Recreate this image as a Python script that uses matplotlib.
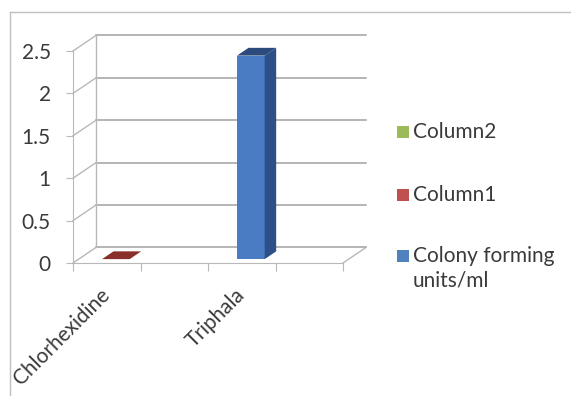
"""3-D style clustered column chart: colony forming units per treatment."""

import matplotlib
matplotlib.use("Agg")
import matplotlib.pyplot as plt
import numpy as np
from matplotlib.lines import Line2D
from matplotlib.patches import Polygon, Rectangle

# data
categories = ["Chlorhexidine", "", "Triphala", ""]
series_names = ["Colony forming\nunits/ml", "Column1", "Column2"]
cfu = [np.nan, np.nan, 2.4, np.nan]
col1 = [0.0, np.nan, np.nan, np.nan]
col2 = [np.nan, np.nan, np.nan, np.nan]
yticks = [0, 0.5, 1, 1.5, 2, 2.5]
ytick_labels = ["0", "0.5", "1", "1.5", "2", "2.5"]

# styling
plt.rcParams["font.family"] = ["Lato", "DejaVu Sans"]
FS = 15
TXT = "#3a3a3a"
GRID = "#a0a0a0"
SIDE = "#b8b8b8"
face = {  # front, side, top, legend
    "Colony forming\nunits/ml": ("#4a7cc4", "#2d5089", "#2c4a7c", "#4f81bd"),
    "Column1": ("#c0504d", "#8c3330", "#8a2e2b", "#c0504d"),
    "Column2": ("#9bbb59", "#6f8a3c", "#718c3e", "#9bbb59"),
}
DX, DY = 0.34, 0.183          # depth offset in data units
D0, D1 = 0.25, 0.75           # bar depth span (fraction of floor depth)
BAR_OFF, BAR_W = 0.345, 0.41  # bar position inside a category slot

W, H = 571, 396
fig = plt.figure(figsize=(W / 100, H / 100), dpi=100)
ax = fig.add_axes([73 / W, 1 - 263 / H, 270 / W, 212 / H])
ax.set_xlim(0, len(categories))
ax.set_ylim(0, 2.5)

# chart area border (only left and top are inside the picture)
fig.add_artist(Line2D([10 / W, 10 / W], [0, 1 - 12 / H], color="#c0c0c0", lw=1))
fig.add_artist(Line2D([10 / W, 1], [1 - 12 / H, 1 - 12 / H], color="#c0c0c0", lw=1))

# back wall gridlines + side wall diagonals
n = len(categories)
for v in yticks:
    ax.plot([DX, n + DX], [v + DY, v + DY], color=GRID, lw=1.1, clip_on=False, zorder=1)
    ax.plot([0, DX], [v, v + DY], color=SIDE, lw=1, clip_on=False, zorder=1)
ax.plot([DX, DX], [DY, 2.5 + DY], color=SIDE, lw=1, clip_on=False, zorder=1)
ax.plot([n, n + DX], [0, DY], color=SIDE, lw=1, clip_on=False, zorder=1)


def proj(x, v, d):
    return (x + d * DX, v + d * DY)


def bar3d(ax, x0, h, cols):
    x1 = x0 + BAR_W
    front, side, top = cols[:3]
    if h > 0:
        ax.add_patch(Polygon([proj(x0, 0, D0), proj(x1, 0, D0), proj(x1, h, D0), proj(x0, h, D0)],
                             closed=True, fc=front, ec="none", zorder=3, clip_on=False))
        ax.add_patch(Polygon([proj(x1, 0, D0), proj(x1, 0, D1), proj(x1, h, D1), proj(x1, h, D0)],
                             closed=True, fc=side, ec="none", zorder=3, clip_on=False))
    ax.add_patch(Polygon([proj(x0, h, D0), proj(x1, h, D0), proj(x1, h, D1), proj(x0, h, D1)],
                         closed=True, fc=top, ec="none", zorder=4, clip_on=False))


for name, vals in zip(series_names, [cfu, col1, col2]):
    for i, v in enumerate(vals):
        if np.isnan(v):
            continue
        bar3d(ax, i + BAR_OFF, v, face[name])

# axes
for s in ["top", "right"]:
    ax.spines[s].set_visible(False)
ax.spines["left"].set_color(SIDE)
ax.spines["bottom"].set_color(SIDE)
ax.set_yticks(yticks, ytick_labels)
ax.tick_params(axis="y", colors=SIDE, labelcolor=TXT, labelsize=FS, length=5, pad=11)
ax.set_xticks(range(n + 1), [""] * (n + 1))
ax.tick_params(axis="x", which="major", colors=SIDE, length=6)
ax.set_xticks(np.arange(n) + 0.5, categories, minor=True)
ax.tick_params(axis="x", which="minor", length=0, pad=21, labelsize=FS, labelcolor=TXT)
for lab in ax.get_xticklabels(minor=True):
    lab.set_rotation(45)
    lab.set_ha("right")
    lab.set_va("center")
    lab.set_rotation_mode("anchor")

# legend (Excel style, reversed order)
leg_y = {"Column2": 132, "Column1": 195, "Colony forming\nunits/ml": 256}
for name in ["Column2", "Column1", "Colony forming\nunits/ml"]:
    y = leg_y[name]
    fig.patches.append(Rectangle((397 / W, 1 - (y + 6) / H), 12 / W, 12 / H,
                                 transform=fig.transFigure, fc=face[name][3], ec="none"))
    fig.text(413 / W, 1 - (y - 10) / H, name, fontsize=FS, color=TXT, va="top", ha="left",
             linespacing=1.3)

fig.savefig("out.png", dpi=100)
